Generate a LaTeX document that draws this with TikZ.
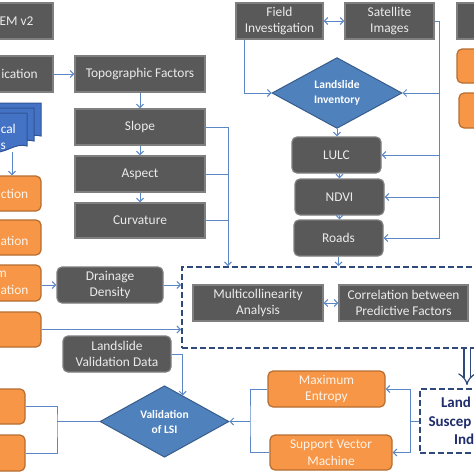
\documentclass[tikz,border=0pt]{standalone}
\usepackage{fontspec}
\setmainfont{Carlito}
\usetikzlibrary{arrows.meta,shapes.geometric,calc}
\definecolor{boxgray}{HTML}{595959}
\definecolor{boxedge}{HTML}{7F7F7F}
\definecolor{orfill}{HTML}{F79646}
\definecolor{oredge}{HTML}{B66D31}
\definecolor{dmfill}{HTML}{4F81BD}
\definecolor{dmedge}{HTML}{385D8A}
\definecolor{linkblue}{HTML}{5B87C5}
\definecolor{navy}{HTML}{2F4A7A}
\definecolor{navytext}{HTML}{1F2D6B}
\definecolor{docfill}{HTML}{4472C4}
\definecolor{docedge}{HTML}{2F5597}
\tikzset{
  darkbox/.style={draw=boxedge, fill=boxgray, line width=1.2pt, text=white!92!black,
    align=center, inner sep=0pt, font=\fontsize{13.4}{16.5}\selectfont},
  roundbox/.style={darkbox, rounded corners=5pt},
  orangebox/.style={draw=oredge, fill=orfill, line width=1.2pt, rounded corners=5pt,
    text=white!88!orfill, align=center, inner sep=0pt, font=\fontsize{13.4}{16.5}\selectfont},
  decision/.style={diamond, draw=dmedge, fill=dmfill, line width=1pt, text=white,
    align=center, inner sep=0pt, font=\bfseries\fontsize{11.5}{15}\selectfont},
  link/.style={draw=linkblue, line width=1pt},
  dashbox/.style={draw=navy, dash pattern=on 6pt off 3pt, line width=1.8pt},
  imply/.style={draw=navy, double, double distance=5pt, line width=1.2pt, -{Implies}},
}
\begin{document}
\begin{tikzpicture}[x=1pt, y=-1pt, >={Straight Barb[length=3.5pt,width=7pt]}]
  \useasboundingbox[fill=white] (0,0) rectangle (474,474);
  \clip (0,0) rectangle (474,474);

  % left column
  \node[darkbox, minimum width=73, minimum height=36] (dem) at (16.5,21) {EM v2};
  \node[darkbox, minimum width=67, minimum height=36] (classif) at (19.5,74) {ication};
  \foreach \r/\t/\b in {41/103/142, 34/108/147, 27/113/152} {
    \draw[docedge, fill=docfill, line width=1pt] (-10,\t) -- (\r,\t) -- (\r,\b-6)
      .. controls (\r-12,\b-10) and (\r-22,\b+3) .. (-10,\b) -- cycle;
  }
  \node[font=\fontsize{13.4}{16.5}\selectfont, text=white, align=right, anchor=east,
    inner sep=0pt] (geo) at (16,137) {cal\\s\hspace*{10pt}};
  \coordinate (stackbot) at (12,152);
  \node[orangebox, minimum width=53, minimum height=35] (o1) at (14.5,193.5) {ction};
  \node[orangebox, minimum width=53, minimum height=35] (o2) at (14.5,237.5) {\mbox{}\\ation};
  \node[orangebox, minimum width=53, minimum height=36] (o3) at (14.5,283) {m\hspace*{26pt}\\ation};
  \node[orangebox, minimum width=53, minimum height=35] (o4) at (14.5,329.5) {};
  \node[orangebox, minimum width=45, minimum height=35] (bl1) at (2.5,406.5) {};
  \node[orangebox, minimum width=45, minimum height=36] (bl2) at (2.5,453) {};

  % topographic factors
  \node[darkbox, minimum width=130, minimum height=36] (topo) at (140,74) {Topographic Factors};
  \node[darkbox, minimum width=130, minimum height=36] (slope) at (140,127) {Slope};
  \node[darkbox, minimum width=130, minimum height=36] (aspect) at (140,174) {Aspect};
  \node[darkbox, minimum width=130, minimum height=35] (curv) at (140,220.5) {Curvature};
  \node[roundbox, minimum width=106, minimum height=36] (drain) at (110,285) {Drainage\\Density};
  \node[roundbox, minimum width=108, minimum height=36] (lvd) at (117,354) {Landslide\\Validation Data};

  % inventory
  \node[darkbox, minimum width=87, minimum height=36] (field) at (279.5,21) {Field\\Investigation};
  \node[darkbox, minimum width=89, minimum height=36] (sat) at (389.5,21) {Satellite\\Images};
  \node[darkbox, minimum width=38, minimum height=36] (topright) at (476,21) {};
  \node[orangebox, minimum width=38, minimum height=34] (or1) at (476,66) {};
  \node[orangebox, minimum width=38, minimum height=35] (or2) at (478,110.5) {};
  \node[decision, minimum width=130, minimum height=70] (inv) at (337,93) {Landslide\\Inventory};
  \node[roundbox, minimum width=89, minimum height=36] (lulc) at (336.5,155) {LULC};
  \node[roundbox, minimum width=89, minimum height=36] (ndvi) at (339.5,197) {NDVI};
  \node[roundbox, minimum width=89, minimum height=36] (roads) at (338.5,238) {Roads};

  % factor selection
  \node[dashbox, minimum width=316, minimum height=81] (fsel) at (340,307.5) {};
  \node[darkbox, minimum width=130, minimum height=36] (multi) at (258,303) {Multicollinearity\\Analysis};
  \node[darkbox, minimum width=129, minimum height=36] (corr) at (403.5,303) {Correlation between\\Predictive Factors};

  % models and validation
  \node[decision, minimum width=129, minimum height=71] (lsi) at (164.5,421.5) {Validation\\of LSI};
  \node[orangebox, minimum width=117, minimum height=36] (me) at (326.5,389) {Maximum\\Entropy};
  \node[orangebox, minimum width=122, minimum height=35] (svm) at (331,452.5) {Support Vector\\Machine};
  \node[dashbox, minimum width=75, minimum height=64, inner sep=0pt, text=navytext, align=left,
    text width=58, font=\bfseries\fontsize{15}{18.5}\selectfont] (lsibox) at (457.5,421)
    {\hspace*{12.5pt}Land\\Suscep\\\hspace*{25.5pt}Ind};

  % connectors
  \draw[link,->] (classif.east) -- (topo.west);
  \draw[link,->] (topo) -- (slope);
  \draw[link,->] (slope) -- (aspect);
  \draw[link,->] (aspect) -- (curv);
  \coordinate (tk) at (228,127);
  \draw[link,->] (slope.east) -| (tk |- fsel.north);
  \draw[link] (aspect.east) -- (aspect.east -| tk);
  \draw[link] (curv.east) -- (curv.east -| tk);
  \draw[link,->] (stackbot) -- (stackbot |- o1.north);
  \draw[link,->] (drain.west -| o3.east) -- (drain.west);
  \draw[link,->] (drain.east) -- (drain.east -| fsel.west);
  \draw[link,->] (o4.east) -- (o4.east -| fsel.west);

  \draw[link,<->] (field) -- (sat);
  \draw[link,->] ([xshift=9pt]field.south west) |- (inv.west);
  \coordinate (sk) at (439,21);
  \draw[link,->] (sat.east) -| (sk |- roads) -- (roads.east);
  \draw[link,->] (sk |- inv) -- (inv.east);
  \draw[link,->] (sk |- lulc) -- (lulc.east);
  \draw[link,->] (sk |- ndvi) -- (ndvi.east);
  \draw[link,->] (inv.south) -- (inv.south |- lulc.north);
  \draw[link,->] (ndvi.north |- lulc.south) -- (ndvi.north);
  \draw[link,->] (ndvi.south) -- (ndvi.south |- roads.north);
  \draw[link,->] (roads.south) -- (roads.south |- fsel.north);
  \draw[link,<->] (multi) -- (corr);

  \draw[link,->] (lvd.east) -| ($(lsi.north)!0.28!(lsi.east)$);
  \coordinate (bk) at (57,422);
  \draw[link] (bl1.east) -| (bk) |- (bl2.east);
  \draw[link] (lsi.west) -- (lsi.west -| bk);
  \coordinate (mk) at (250,421.5);
  \draw[link] (me.west) -| (mk) |- (svm.west);
  \draw[link,->] (lsi.east -| mk) -- (lsi.east);
  \coordinate (rk) at (410,421);
  \draw[link] (lsibox.west) -- (lsibox.west -| rk);
  \draw[link] (rk |- me) -- (rk |- svm);
  \draw[link,->] (rk |- me) -- (me.east);
  \draw[link,->] (rk |- svm) -- (svm.east);
  \coordinate (ia) at (467,0);
  \draw[imply] (ia |- fsel.south) -- ([yshift=3pt]ia |- lsibox.north);
\end{tikzpicture}
\end{document}
